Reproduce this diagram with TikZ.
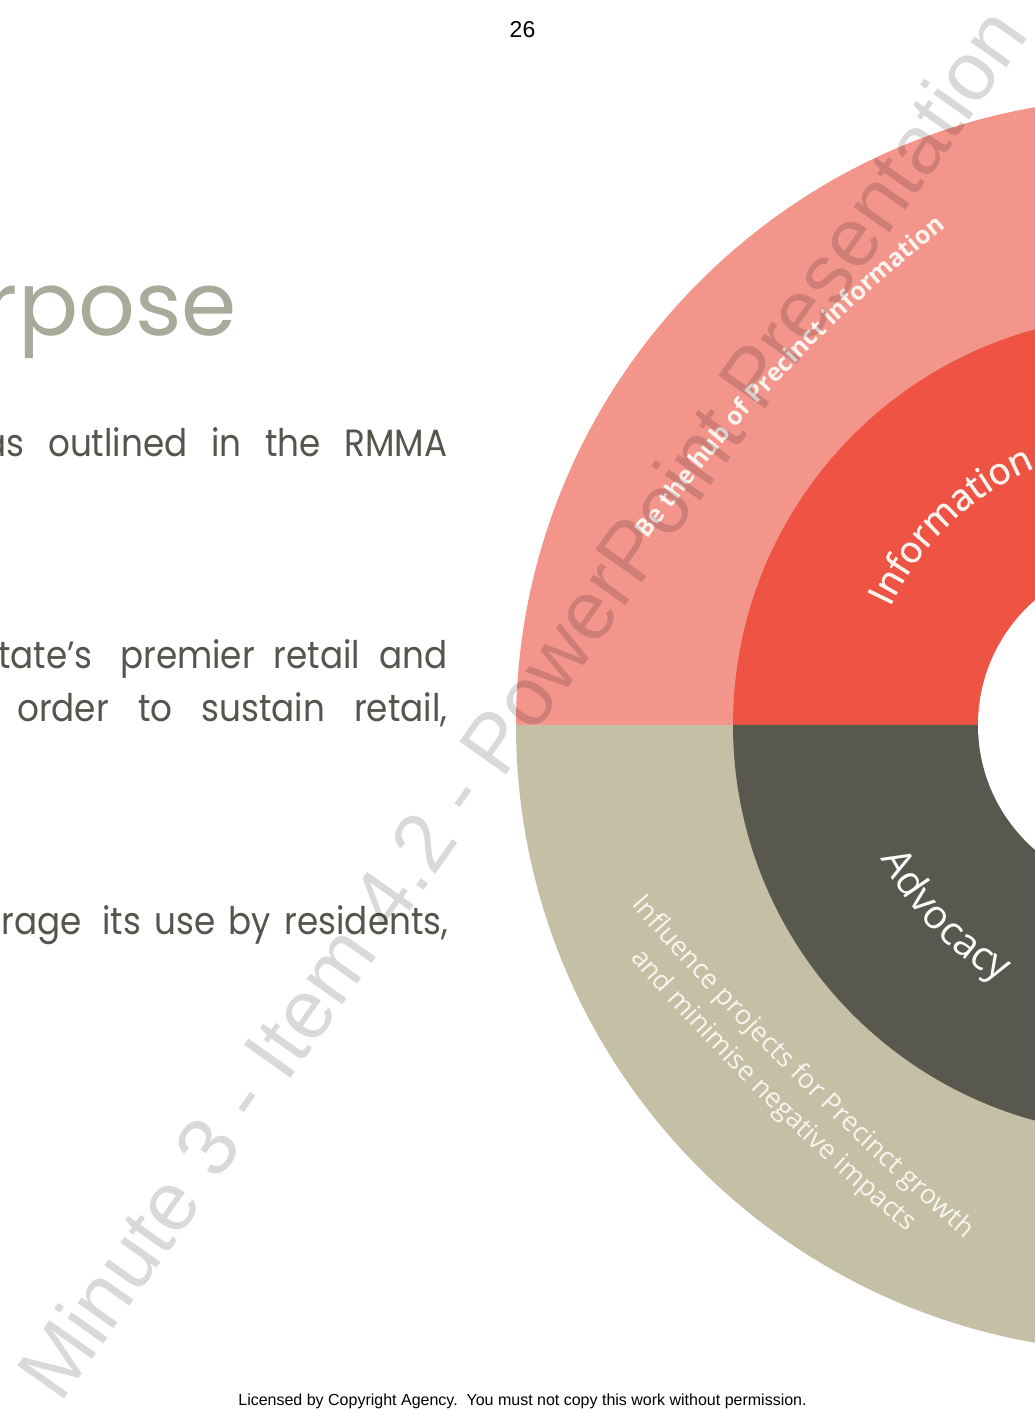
\documentclass[tikz,border=0pt]{standalone}
\usepackage{fontspec}
\setmainfont{Poppins}[FakeStretch=0.9]
\newfontfamily\headfont{Poppins}
\newfontfamily\ringfont{Open Sans}
\newfontfamily\ringsemi{Open Sans}[FakeBold=1.2]
\newfontfamily\markfont{Liberation Sans}
\usetikzlibrary{decorations.text}

\definecolor{ringpink}{HTML}{F4958C}
\definecolor{ringred}{HTML}{EE5344}
\definecolor{ringtan}{HTML}{C5BFA6}
\definecolor{ringdark}{HTML}{58584E}
\definecolor{titlegrey}{HTML}{A8AA9A}
\definecolor{bodygrey}{HTML}{55554E}
\definecolor{cream}{HTML}{FBF3EE}

% a justified run of words filling a given width
\newcommand\justrun[2]{\makebox[#1pt][s]{#2}}

\tikzset{
  bodyword/.style={anchor=base west, inner sep=0pt, text=bodygrey,
    font=\fontsize{38}{38}\selectfont},
  cutword/.style={bodyword, anchor=base east},
  ringtext/.style={decorate, decoration={text along path, text align=left,
    text color=#1}},
}

\begin{document}
\begin{tikzpicture}[x=1pt,y=1pt]
\useasboundingbox (0,0) rectangle (1035,1410);
\fill[white] (0,0) rectangle (1035,1410);
\clip (0,0) rectangle (1035,1410);

% concentric rings
\coordinate (hub) at (1143,685);
\fill[ringpink] (hub) ++(0:627) arc[start angle=0, end angle=180, radius=627] -- cycle;
\fill[ringtan]  (hub) ++(180:627) arc[start angle=180, end angle=360, radius=627] -- cycle;
\fill[ringred]  (hub) ++(0:410) arc[start angle=0, end angle=180, radius=410] -- cycle;
\fill[ringdark] (hub) ++(180:410) arc[start angle=180, end angle=360, radius=410] -- cycle;
\fill[white] (hub) circle[radius=165];

% ring labels
\path[ringtext=cream, decoration={text={|\ringfont\bfseries\fontsize{25}{25}\selectfont|Be the hub of Precinct information}}]
  (648,870) .. controls (732.7,988) and (831.7,1092) .. (945,1182);
\path[ringtext=cream, decoration={text={|\ringsemi\fontsize{37}{37}\selectfont|Information}}]
  (hub) ++(155:279) arc[start angle=155, end angle=95, radius=279];
\path[ringtext=white, decoration={text={|\ringfont\fontsize{40}{40}\selectfont|Advocacy}}]
  (hub) ++(207:294) arc[start angle=207, end angle=250, radius=294];
\path[ringtext=cream, decoration={text={|\ringfont\fontsize{27}{27}\selectfont|Influence projects for Precinct growth}}]
  (631,505) .. controls (735.2,385.7) and (846.9,274.1) .. (966,170);
\path[ringtext=cream, decoration={text={|\ringfont\fontsize{27}{27}\selectfont|and minimise negative impacts}}]
  (630,452) .. controls (717.5,351.4) and (811.2,258.4) .. (913,173);

% heading
\node[anchor=base east, inner sep=0pt, text=titlegrey, font=\headfont\fontsize{89}{89}\selectfont] (title) at (237,1074) {rpose};

% body text, justified lines
\node[cutword] (l1a) at (25,953) {as};
\node[bodyword] (l1b) at (48,953) {\justrun{399}{outlined in the RMMA}};

\node[cutword] (l2a) at (93,741) {tate’s};
\node[bodyword] (l2b) at (120,741) {\justrun{327}{premier retail and}};

\node[bodyword] (l3a) at (17,688) {\justrun{430}{order to sustain retail,}};

\node[cutword] (l4a) at (82,475) {rage};
\node[bodyword] (l4b) at (102,475) {\justrun{346}{its use by residents,}};

% page furniture
\node[anchor=base, inner sep=0pt, font=\markfont\fontsize{23}{23}\selectfont] (pagenum) at (522.5,1372) {26};
\node[anchor=base, inner sep=0pt, font=\markfont\fontsize{16}{16}\selectfont] (licence) at (522.5,5)
  {Licensed by Copyright Agency.\ \ You must not copy this work without permission.};

% watermark
\node[rotate=54.7, anchor=base west, inner sep=0pt, text=black, text opacity=0.15,
  font=\markfont\fontsize{83}{83}\selectfont] (watermark) at (60,5)
  {Minute 3 - Item 4.2 - PowerPoint Presentation};
\end{tikzpicture}
\end{document}
